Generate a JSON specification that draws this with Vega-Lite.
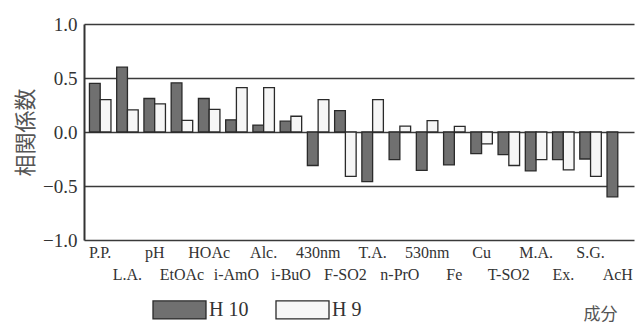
{
  "$schema": "https://vega.github.io/schema/vega-lite/v6.json",
  "width": 550,
  "height": 216,
  "autosize": "none",
  "padding": {"left": 84, "top": 24, "right": 2, "bottom": 87},
  "background": "white",
  "config": {"view": {"stroke": null}, "font": "Liberation Serif, DejaVu Serif, serif"},
  "data": {
    "values": [
      {"component": "P.P.", "series": "H 10", "r": 0.45},
      {"component": "P.P.", "series": "H 9", "r": 0.30},
      {"component": "L.A.", "series": "H 10", "r": 0.60},
      {"component": "L.A.", "series": "H 9", "r": 0.205},
      {"component": "pH", "series": "H 10", "r": 0.31},
      {"component": "pH", "series": "H 9", "r": 0.26},
      {"component": "EtOAc", "series": "H 10", "r": 0.455},
      {"component": "EtOAc", "series": "H 9", "r": 0.107},
      {"component": "HOAc", "series": "H 10", "r": 0.31},
      {"component": "HOAc", "series": "H 9", "r": 0.21},
      {"component": "i-AmO", "series": "H 10", "r": 0.113},
      {"component": "i-AmO", "series": "H 9", "r": 0.41},
      {"component": "Alc.", "series": "H 10", "r": 0.064},
      {"component": "Alc.", "series": "H 9", "r": 0.41},
      {"component": "i-BuO", "series": "H 10", "r": 0.10},
      {"component": "i-BuO", "series": "H 9", "r": 0.146},
      {"component": "430nm", "series": "H 10", "r": -0.31},
      {"component": "430nm", "series": "H 9", "r": 0.30},
      {"component": "F-SO2", "series": "H 10", "r": 0.198},
      {"component": "F-SO2", "series": "H 9", "r": -0.41},
      {"component": "T.A.", "series": "H 10", "r": -0.46},
      {"component": "T.A.", "series": "H 9", "r": 0.30},
      {"component": "n-PrO", "series": "H 10", "r": -0.255},
      {"component": "n-PrO", "series": "H 9", "r": 0.054},
      {"component": "530nm", "series": "H 10", "r": -0.355},
      {"component": "530nm", "series": "H 9", "r": 0.106},
      {"component": "Fe", "series": "H 10", "r": -0.305},
      {"component": "Fe", "series": "H 9", "r": 0.052},
      {"component": "Cu", "series": "H 10", "r": -0.20},
      {"component": "Cu", "series": "H 9", "r": -0.11},
      {"component": "T-SO2", "series": "H 10", "r": -0.21},
      {"component": "T-SO2", "series": "H 9", "r": -0.31},
      {"component": "M.A.", "series": "H 10", "r": -0.36},
      {"component": "M.A.", "series": "H 9", "r": -0.255},
      {"component": "Ex.", "series": "H 10", "r": -0.255},
      {"component": "Ex.", "series": "H 9", "r": -0.35},
      {"component": "S.G.", "series": "H 10", "r": -0.25},
      {"component": "S.G.", "series": "H 9", "r": -0.41},
      {"component": "AcH", "series": "H 10", "r": -0.60}
    ]
  },
  "mark": {"type": "bar", "stroke": "#2a2a2a", "strokeWidth": 1.3},
  "encoding": {
    "x": {
      "field": "component",
      "type": "nominal",
      "sort": null,
      "scale": {"paddingInner": 0.21, "paddingOuter": 0.2},
      "axis": {
        "orient": "bottom",
        "domain": false,
        "ticks": false,
        "labelAngle": 0,
        "labelFont": "Liberation Serif, DejaVu Serif, serif",
        "labelFontSize": 16,
        "labelColor": "#333",
        "labelPadding": 4,
        "labelBaseline": "top",
        "labelLineHeight": 22,
        "labelOverlap": false,
        "labelLimit": 0,
        "labelExpr": "indexof(['L.A.','EtOAc','i-AmO','i-BuO','F-SO2','n-PrO','Fe','T-SO2','Ex.','AcH'], datum.value) >= 0 ? ['', datum.value] : datum.value",
        "title": "成分",
        "titleFont": "Noto Sans CJK JP",
        "titleFontSize": 17,
        "titleFontWeight": "normal",
        "titleColor": "#555",
        "titleX": 516,
        "titleY": 74,
        "titleAlign": "center",
        "titleBaseline": "middle"
      }
    },
    "xOffset": {"field": "series", "sort": ["H 10", "H 9"]},
    "y": {
      "field": "r",
      "type": "quantitative",
      "scale": {"domain": [-1, 1], "nice": false},
      "axis": {
        "values": [-1, -0.5, 0, 0.5, 1],
        "format": ".1f",
        "grid": true,
        "gridColor": "#3a3a3a",
        "gridWidth": 1.5,
        "ticks": false,
        "domain": true,
        "domainColor": "#333",
        "domainWidth": 2,
        "labelFont": "Liberation Serif, DejaVu Serif, serif",
        "labelFontSize": 19,
        "labelColor": "#333",
        "labelPadding": 7,
        "title": "相関係数",
        "titleFont": "Noto Sans CJK JP",
        "titleFontSize": 22,
        "titleFontWeight": "normal",
        "titleColor": "#555",
        "titleX": -59,
        "titleY": 108,
        "titleAlign": "center",
        "titleBaseline": "middle"
      }
    },
    "color": {
      "field": "series",
      "type": "nominal",
      "scale": {"domain": ["H 10", "H 9"], "range": ["#707070", "#f6f6f6"]},
      "legend": {
        "orient": "none",
        "legendX": 68,
        "legendY": 258,
        "direction": "horizontal",
        "title": null,
        "padding": 0,
        "symbolType": "M-1,-0.34L1,-0.34L1,0.34L-1,0.34Z",
        "symbolSize": 2809,
        "symbolStrokeColor": "#2a2a2a",
        "symbolStrokeWidth": 1.3,
        "symbolOpacity": 1,
        "labelFont": "Liberation Serif, DejaVu Serif, serif",
        "labelFontSize": 20,
        "labelColor": "#333",
        "labelOffset": 2,
        "columnPadding": 24
      }
    }
  }
}
